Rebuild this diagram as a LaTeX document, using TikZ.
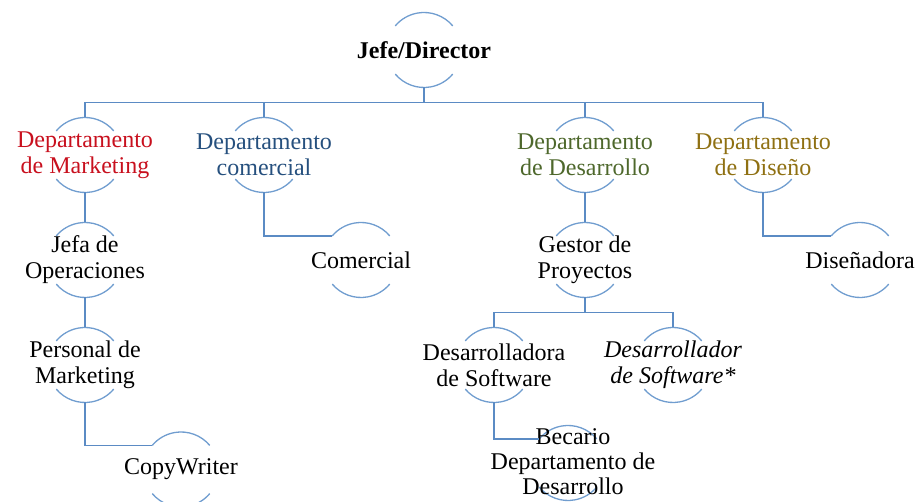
\documentclass[tikz,border=0pt]{standalone}
\usepackage{fontspec}
\setmainfont{LiberationSerif}[Extension=.ttf,UprightFont=*-Regular,BoldFont=*-Bold,ItalicFont=*-Italic,BoldItalicFont=*-BoldItalic]
\usetikzlibrary{calc}
\definecolor{mktred}{RGB}{200,16,30}
\definecolor{comblue}{RGB}{38,80,126}
\definecolor{desgreen}{RGB}{78,104,44}
\definecolor{disgold}{RGB}{143,112,18}
\definecolor{lineblue}{RGB}{91,139,196}
\definecolor{arcblue}{RGB}{112,157,207}
\begin{document}
\begin{tikzpicture}[x=1pt,y=1pt,
  ring/.style={circle,minimum size=75pt,inner sep=0pt,outer sep=0pt},
  txt/.style={align=center,inner sep=0pt,font=\fontsize{24}{26}\selectfont},
  conn/.style={draw=lineblue,line width=1.4pt},
  arcc/.style={draw=arcblue,line width=1.3pt}]
\useasboundingbox (0,0) rectangle (919,502);
% rings
\node[ring] (dir)  at (424,452) {};
\node[ring] (mkt)  at (85,347) {};
\node[ring] (com)  at (264,347) {};
\node[ring] (des)  at (585,347) {};
\node[ring] (dis)  at (763,347) {};
\node[ring] (jefa) at (85,242) {};
\node[ring] (comr) at (361,242) {};
\node[ring] (gest) at (585,242) {};
\node[ring] (disr) at (860,242) {};
\node[ring] (pers) at (85,137) {};
\node[ring] (dsw1) at (494,137) {};
\node[ring] (dsw2) at (673,137) {};
\node[ring] (copy) at (181,32.5) {};
\node[ring] (bec)  at (568,39) {};
\foreach \n in {dir,mkt,com,des,dis,jefa,comr,gest,disr,pers,dsw1,dsw2,copy,bec}{
  \draw[arcc] (\n.40) arc[start angle=40,end angle=140,radius=37.5pt];
  \draw[arcc] (\n.220) arc[start angle=220,end angle=320,radius=37.5pt];
}
% texts
\node[txt] (tdir)  at (dir)  {\textbf{Jefe/Director}};
\node[txt,text=mktred]   (tmkt) at (mkt) {Departamento\\de Marketing};
\node[txt,text=comblue]  (tcom) at (com) {Departamento\\comercial};
\node[txt,text=desgreen] (tdes) at (des) {Departamento\\de Desarrollo};
\node[txt,text=disgold]  (tdis) at (dis) {Departamento\\de Diseño};
\node[txt] (tjefa) at (jefa) {Jefa de\\Operaciones};
\node[txt] (tcomr) at (comr) {Comercial};
\node[txt] (tgest) at (gest) {Gestor de\\Proyectos};
\node[txt] (tdisr) at (disr) {Diseñadora};
\node[txt] (tpers) at (pers) {Personal de\\Marketing};
\node[txt] (tdsw1) at (dsw1) {Desarrolladora\\de Software};
\node[txt] (tdsw2) at (dsw2) {\textit{Desarrollador}\\\textit{de Software*}};
\node[txt] (tcopy) at (copy) {CopyWriter};
\node[txt,font=\fontsize{24}{25}\selectfont] (tbec) at ($(bec)+(5,1)$) {Becario\\Departamento de\\Desarrollo};
% connectors
\coordinate (bus1) at ($(dir.south)+(0,-15)$);
\foreach \c in {mkt,com,des,dis}{
  \draw[conn] (dir.south) -- (bus1) -| (\c.north);
}
\draw[conn] (mkt.south) -- (jefa.north);
\draw[conn] (jefa.south) -- (pers.north);
\draw[conn] (pers.south) |- (copy.140);
\draw[conn] (com.south) |- (comr.140);
\draw[conn] (des.south) -- (gest.north);
\draw[conn] (dis.south) |- (disr.140);
\coordinate (bus2) at ($(gest.south)+(0,-15)$);
\foreach \c in {dsw1,dsw2}{
  \draw[conn] (gest.south) -- (bus2) -| (\c.north);
}
\draw[conn] (dsw1.south) |- (bec.140);
\end{tikzpicture}
\end{document}
